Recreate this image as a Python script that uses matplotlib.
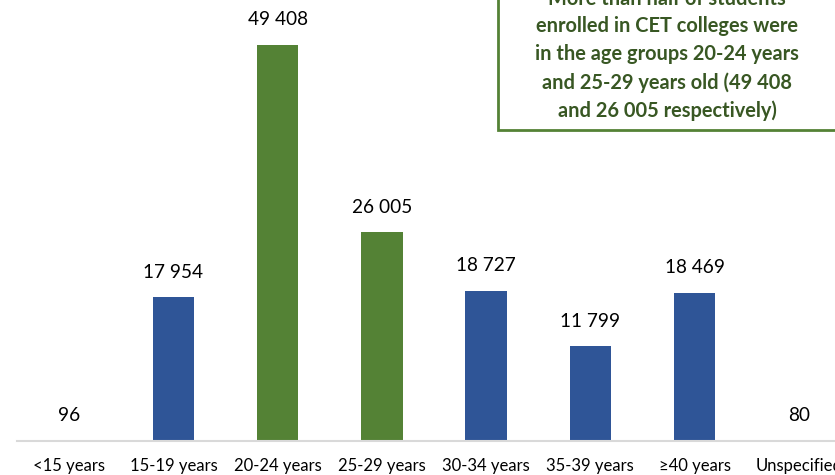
import matplotlib.pyplot as plt
from matplotlib.patches import Rectangle

categories = ['<15 years', '15-19 years', '20-24 years', '25-29 years',
              '30-34 years', '35-39 years', '≥40 years', 'Unspecified']
values = [96, 17954, 49408, 26005, 18727, 11799, 18469, 80]
highlight = [False, False, True, True, False, False, False, False]
note = ('More than half of students\n'
        'enrolled in CET colleges were\n'
        'in the age groups 20-24 years\n'
        'and 25-29 years old (49 408\n'
        'and 26 005 respectively)')

blue = '#2F5597'
green = '#548235'

plt.rcParams['font.family'] = ['Lato', 'DejaVu Sans']

W, H = 835, 475
fig = plt.figure(figsize=(W / 100, H / 100), dpi=100)
# axes run a little past the right edge, like the cropped original
ax = fig.add_axes([17 / W, (H - 441) / H, 834 / W, 441 / H])

x = list(range(len(categories)))
colors = [green if h else blue for h in highlight]
ax.bar(x, values, width=0.4, color=colors, zorder=2)

for xi, v in zip(x, values):
    ax.annotate(f'{v:,}'.replace(',', ' '), (xi, v), xytext=(0, 18),
                textcoords='offset points', ha='center', va='center',
                fontsize=13.7, color='black')

ax.set_xlim(-0.5, len(categories) - 0.5)
ax.set_ylim(0, 55000)
ax.set_xticks(x)
ax.set_xticklabels(categories, fontsize=12)
ax.tick_params(axis='x', length=0, pad=12)
ax.set_yticks([])
for s in ['top', 'left', 'right']:
    ax.spines[s].set_visible(False)
ax.spines['bottom'].set_color('#d9d9d9')
ax.spines['bottom'].set_linewidth(1.5)

# call-out box, cut off at the top and right
fig.patches.append(Rectangle((498 / W, (H - 130) / H), 400 / W, 200 / H,
                             transform=fig.transFigure, facecolor='white',
                             edgecolor=green, linewidth=2, zorder=5))
fig.text(667 / W, (H - 55) / H, note, ha='center', va='center',
         fontsize=14.4, fontweight='bold', color='#385723',
         linespacing=1.48, zorder=6)

fig.savefig('out.png', dpi=100)
